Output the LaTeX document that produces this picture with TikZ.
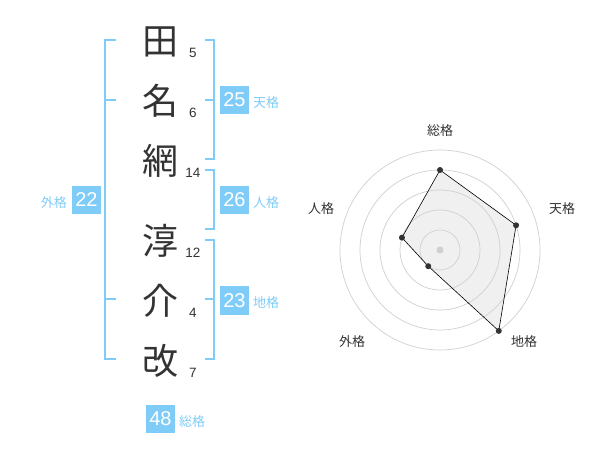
\documentclass[tikz,border=0pt]{standalone}
\usepackage{fontspec}
\setmainfont{Liberation Sans}
\newfontfamily\jp{Noto Sans CJK JP}
\definecolor{kakublue}{RGB}{128,204,248}
\definecolor{chartgray}{RGB}{208,208,208}
\definecolor{inkgray}{RGB}{51,51,51}
\tikzset{
  kanji/.style={font=\jp\fontsize{36}{36}\selectfont, text=inkgray, inner sep=0pt},
  strokes/.style={font=\fontsize{13.5}{13.5}\selectfont, text=inkgray, inner sep=0pt},
  kakubox/.style={fill=kakublue, text=white, minimum size=28.5pt, inner sep=0pt, font=\fontsize{20}{20}\selectfont},
  kakulabel/.style={text=kakublue, font=\jp\fontsize{13}{13}\selectfont, inner sep=0pt},
  bracket/.style={draw=kakublue, line width=2pt},
  ring/.style={draw=chartgray, line width=0.7pt},
  axislabel/.style={text=inkgray, font=\jp\fontsize{13}{13}\selectfont, inner sep=0pt},
  dot/.style={circle, fill=inkgray, inner sep=0pt, minimum size=6pt},
}

\begin{document}
\begin{tikzpicture}[x=1pt, y=-1pt]
    \useasboundingbox[fill=white] (0,0) rectangle (600,470);

    % name, one character per row
    \node[kanji] at (160,42) (c1) {田};
    \node[kanji] at (160,101) (c2) {名};
    \node[kanji] at (160,161) (c3) {網};
    \node[kanji] at (160,241) (c4) {淳};
    \node[kanji] at (160,301) (c5) {介};
    \node[kanji] at (160,361) (c6) {改};

    \node[strokes] at (193,53) (s1) {5};
    \node[strokes] at (193,113) (s2) {6};
    \node[strokes] at (193,173) (s3) {14};
    \node[strokes] at (193,253) (s4) {12};
    \node[strokes] at (193,313) (s5) {4};
    \node[strokes] at (193,373) (s6) {7};

    % brackets
    \draw[bracket] (116,40) -- (105,40) -- (105,359) -- (116,359);
    \draw[bracket] (105,100) -- (116,100);
    \draw[bracket] (105,299) -- (116,299);
    \draw[bracket] (205,40) -- (214,40) -- (214,159) -- (205,159);
    \draw[bracket] (205,100) -- (214,100);
    \draw[bracket] (205,170) -- (214,170) -- (214,229) -- (205,229);
    \draw[bracket] (205,240) -- (214,240) -- (214,359) -- (205,359);
    \draw[bracket] (205,299) -- (214,299);

    \node[kakubox] at (234.5,100) (ten) {25};
    \node[kakulabel, anchor=west] at (253,103) (tenl) {天格};
    \node[kakubox] at (234.5,200) (jin) {26};
    \node[kakulabel, anchor=west] at (253,203) (jinl) {人格};
    \node[kakubox] at (234.5,300.5) (chi) {23};
    \node[kakulabel, anchor=west] at (253,303) (chil) {地格};
    \node[kakubox] at (86.5,200) (gai) {22};
    \node[kakulabel, anchor=east] at (67,203) (gail) {外格};
    \node[kakubox] at (160.5,419) (sou) {48};
    \node[kakulabel, anchor=west] at (179,422) (soul) {総格};

    % radar chart
    \begin{scope}[shift={(440,250)}]
      \coordinate (psou) at (-90:80);
      \coordinate (pten) at (-18:80);
      \coordinate (pchi) at (54:100);
      \coordinate (pgai) at (126:20);
      \coordinate (pjin) at (-162:40);

      \fill[black!6] (psou) -- (pten) -- (pchi) -- (pgai) -- (pjin) -- cycle;
      \foreach \r in {20,40,60,80,100}
        \draw[ring] (0,0) circle[radius=\r pt];
      \fill[chartgray] (0,0) circle[radius=3.5pt];
      \draw[black, line width=0.6pt]
        (psou) -- (pten) -- (pchi) -- (pgai) -- (pjin) -- cycle;
      \foreach \p in {psou,pten,pchi,pgai,pjin}
        \node[dot] at (\p) (d\p) {};

      \node[axislabel] at (0,-119.5) (lsou) {総格};
      \node[axislabel] at (122,-41.5) (lten) {天格};
      \node[axislabel] at (84,91.5) (lchi) {地格};
      \node[axislabel] at (-88,91.5) (lgai) {外格};
      \node[axislabel] at (-119,-41.5) (ljin) {人格};
    \end{scope}
  \end{tikzpicture}
\end{document}
